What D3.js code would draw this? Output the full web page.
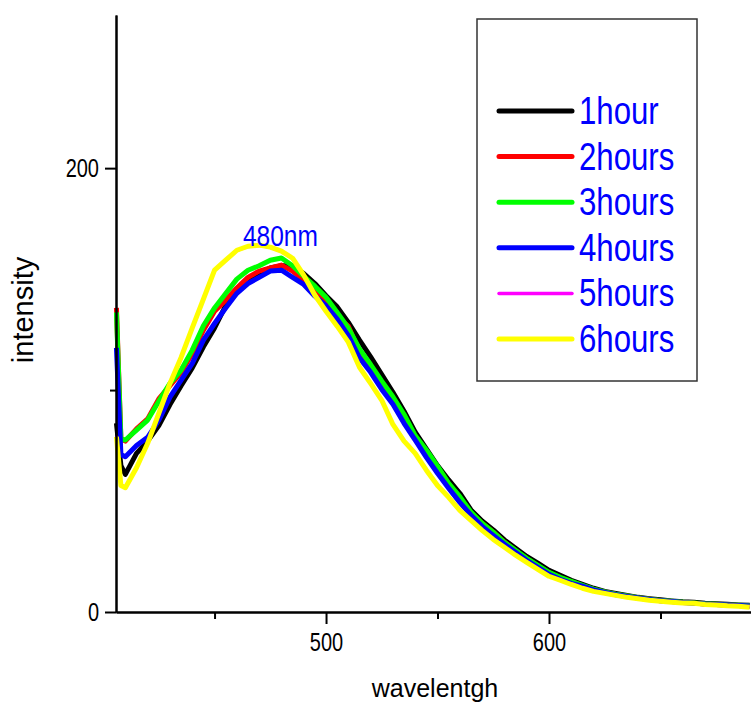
<!DOCTYPE html>
<html>
<head>
<meta charset="utf-8">
<script src="https://cdn.jsdelivr.net/npm/d3@7"></script>
<style>
    body { margin: 0; background: #fff; }
    #chart { width: 751px; height: 707px; }
</style>
</head>
<body>
<div id="chart"></div>
<script>
// wavelength grid (nm)
const wavelengths = [406, 408, 410, 415, 420, 425, 430, 435, 440, 445, 450, 455, 460, 465, 470, 475, 480, 485, 490, 495,
    500, 505, 510, 515, 520, 525, 530, 535, 540, 545, 550, 555, 560, 565, 570, 575, 580, 585, 590, 595,
    600, 605, 610, 615, 620, 625, 630, 635, 640, 645, 650, 655, 660, 665, 670, 675, 680, 685, 690];

const hour1 = [85, 66, 62, 71.5, 77, 84, 93.5, 102, 110, 119.5, 128, 138, 145, 149, 152.5, 155, 156, 156, 152.5, 148,
    142.5, 137.5, 130.5, 122.5, 115, 107, 99, 90.5, 81, 73.5, 66, 59.5, 53.5, 46, 41, 37, 32.5, 28.7, 25, 22,
    18.8, 16.5, 14.3, 12.5, 10.7, 9.3, 8.4, 7.5, 6.6, 6, 5.5, 5, 4.6, 4.4, 3.9, 3.7, 3.5, 3.2, 3];

const hour2 = [137, 78, 77, 82.5, 87, 96, 102, 108, 116.5, 127, 135.5, 140.5, 146, 150.8, 153.6, 155, 156.3, 153.6, 149.5, 144,
    139, 133, 128.8, 117, 110, 102.6, 95.4, 87.8, 78.3, 72, 65.2, 57.5, 51.2, 44.5, 40, 36, 31.5, 27.6, 24, 20.8,
    17.7, 15.4, 13.6, 11.8, 10.2, 8.9, 7.9, 7.1, 6.3, 5.7, 5.1, 4.7, 4.3, 4, 3.6, 3.4, 3.1, 2.9, 2.7];

const hour3 = [135, 78, 77.5, 82, 86.5, 95, 103, 109, 118, 129, 137, 143.5, 150, 154, 156, 158.5, 159.5, 156, 151.3, 146.8,
    141.8, 135, 128, 118.5, 111.5, 104, 97, 89, 79.5, 73, 65.7, 58, 52, 45, 40, 36, 31.4, 27.8, 24.2, 21,
    17.9, 15.6, 13.8, 12, 10.3, 9, 8, 7.2, 6.4, 5.8, 5.2, 4.8, 4.4, 4.1, 3.7, 3.5, 3.2, 3, 2.8];

const hour4 = [119, 71, 70, 75, 78.7, 86.4, 96.8, 104.5, 112, 122.5, 130, 137, 143.6, 148, 150.8, 153.6, 154, 150.8, 147.6, 142.3,
    138, 132, 124.5, 114.5, 108, 100.3, 93.6, 85, 77.4, 69.7, 62.5, 55.8, 49.4, 43.6, 38.6, 34.5, 30.5, 26.9, 23.3, 20.1,
    17, 14.7, 12.9, 11.6, 10, 8.8, 7.8, 7, 6.3, 5.6, 5.1, 4.7, 4.3, 4, 3.6, 3.4, 3.1, 2.9, 2.7];

const hour5 = [79.5, 57.5, 56.2, 65.2, 76.2, 89.3, 102.8, 114.5, 127.8, 140.8, 153.8, 158.3, 162.8, 164.6, 165.1, 164.2, 162.4, 159.2, 151.6, 142.6,
    135.4, 128.6, 121.5, 110.5, 103.1, 95.5, 84.7, 77.1, 71.4, 64, 57.1, 51.8, 45.9, 41.4, 36.9, 32.8, 29.3, 25.7, 22.5, 19.3,
    16.2, 14.3, 12.5, 10.8, 9.4, 8.5, 7.6, 6.7, 6.1, 5.4, 4.9, 4.5, 4.2, 3.9, 3.5, 3.3, 2.9, 2.7, 2.2];

const hour6 = [79, 57, 56, 65, 76, 89.5, 103, 114.7, 128, 141, 154, 158.5, 163, 164.8, 165.3, 164.4, 162.6, 159.4, 151.8, 142.7,
    135.5, 128.8, 121.6, 110.3, 103, 95.4, 84.5, 77, 71.5, 63.9, 57, 51.7, 45.8, 41.3, 36.8, 32.7, 29.2, 25.6, 22.4, 19.2,
    16.1, 14.3, 12.4, 10.7, 9.3, 8.4, 7.5, 6.6, 6, 5.3, 4.8, 4.4, 4.1, 3.9, 3.4, 3.2, 2.8, 2.6, 2.1];

const seriesNames = ["1hour", "2hours", "3hours", "4hours", "5hours", "6hours"];
const seriesValues = [hour1, hour2, hour3, hour4, hour5, hour6];
const seriesColors = ["#000000", "#ff0000", "#00ff00", "#0000ff", "#ff00ff", "#ffff00"];

const yMajorTicks = [0, 200];
const yMinorTicks = [100];
const xMajorTicks = [500, 600];
const xMinorTicks = [450, 550, 650];

const peakLabel = "480nm";
const peakWavelength = 480;

// squeeze text horizontally, the original uses a condensed face
function condense(selection, factor) {
    selection.each(function () {
        let len = this.getComputedTextLength();
        d3.select(this)
            .attr("textLength", len * factor)
            .attr("lengthAdjust", "spacingAndGlyphs");
    });
}

class SpectraChart {
    constructor(parentElement) {
        this.parentElement = parentElement;
        this.initVis();
    }

    initVis() {
        let vis = this;

        vis.margin = {top: 15, right: 0, bottom: 95, left: 116};
        vis.width = 751 - vis.margin.left - vis.margin.right;
        vis.height = 707 - vis.margin.top - vis.margin.bottom;

        vis.svg = d3.select(`#${vis.parentElement}`)
            .append("svg")
            .attr("width", 751)
            .attr("height", 707)
            .append("g")
            .attr("transform", `translate(${vis.margin.left},${vis.margin.top})`);

        vis.xScale = d3.scaleLinear()
            .domain([405.8, 690.6])
            .range([0, vis.width]);

        vis.yScale = d3.scaleLinear()
            .domain([0, 269])
            .range([vis.height, 0]);

        vis.data = seriesNames.map((name, i) => ({
            name: name,
            color: seriesColors[i],
            values: wavelengths.map((w, j) => ({w: w, v: seriesValues[i][j]}))
        }));

        vis.updateVis();
    }

    updateVis() {
        let vis = this;

        let line = d3.line()
            .x(d => vis.xScale(d.w))
            .y(d => vis.yScale(d.v));

        vis.svg.selectAll(".spectrum")
            .data(vis.data)
            .enter()
            .append("path")
            .attr("class", "spectrum")
            .attr("d", d => line(d.values))
            .attr("fill", "none")
            .attr("stroke", d => d.color)
            .attr("stroke-width", d => d.name === "5hours" ? 3 : 5)
            .attr("stroke-linejoin", "round");

        // axes
        let font = "'Liberation Sans', Arial, sans-serif";

        let xAxis = vis.svg.append("g")
            .attr("transform", `translate(0,${vis.height})`)
            .call(d3.axisBottom(vis.xScale).tickValues(xMajorTicks).tickSize(12).tickPadding(9).tickSizeOuter(0));
        let xMinor = vis.svg.append("g")
            .attr("transform", `translate(0,${vis.height})`)
            .call(d3.axisBottom(vis.xScale).tickValues(xMinorTicks).tickSize(7).tickFormat("").tickSizeOuter(0));

        let yAxis = vis.svg.append("g")
            .call(d3.axisLeft(vis.yScale).tickValues(yMajorTicks).tickSize(11).tickPadding(6).tickSizeOuter(0));
        let yMinor = vis.svg.append("g")
            .call(d3.axisLeft(vis.yScale).tickValues(yMinorTicks).tickSize(6).tickFormat("").tickSizeOuter(0));

        [xAxis, xMinor, yAxis, yMinor].forEach(ax => {
            ax.select(".domain").attr("stroke", "#000").attr("stroke-width", 2);
            ax.selectAll(".tick line").attr("stroke", "#000").attr("stroke-width", 2);
            ax.selectAll(".tick text")
                .style("font-family", font)
                .style("font-size", "25px")
                .attr("fill", "#000")
                .call(condense, 0.8);
        });

        // axis titles
        vis.svg.append("text")
            .attr("x", 435 - vis.margin.left)
            .attr("y", 697 - vis.margin.top)
            .attr("text-anchor", "middle")
            .style("font-family", font)
            .style("font-size", "25px")
            .text("wavelentgh");

        vis.svg.append("text")
            .attr("transform", `translate(${33 - vis.margin.left},${310 - vis.margin.top}) rotate(-90)`)
            .attr("text-anchor", "middle")
            .style("font-family", font)
            .style("font-size", "29px")
            .text("intensity");

        // peak annotation
        vis.svg.append("text")
            .attr("x", vis.xScale(peakWavelength) - 1)
            .attr("y", 246 - vis.margin.top)
            .attr("text-anchor", "middle")
            .style("font-family", font)
            .style("font-size", "29px")
            .attr("fill", "#0000ff")
            .text(peakLabel)
            .call(condense, 0.845);

        // legend
        let legend = vis.svg.append("g")
            .attr("transform", `translate(${477 - vis.margin.left},${19 - vis.margin.top})`);

        legend.append("rect")
            .attr("width", 220)
            .attr("height", 362)
            .attr("fill", "#fff")
            .attr("stroke", "#333")
            .attr("stroke-width", 1.5);

        let items = legend.selectAll(".legend-item")
            .data(vis.data)
            .enter()
            .append("g")
            .attr("class", "legend-item")
            .attr("transform", (d, i) => `translate(0,${92 + i * 45.6})`);

        items.append("line")
            .attr("x1", 22)
            .attr("x2", 95)
            .attr("stroke", d => d.color)
            .attr("stroke-width", d => d.name === "5hours" ? 3.5 : 5)
            .attr("stroke-linecap", "round");

        items.append("text")
            .attr("x", 102)
            .attr("y", 13)
            .style("font-family", font)
            .style("font-size", "38px")
            .attr("fill", "#0000ff")
            .text(d => d.name)
            .call(condense, 0.82);
    }
}

new SpectraChart("chart");
</script>
</body>
</html>
